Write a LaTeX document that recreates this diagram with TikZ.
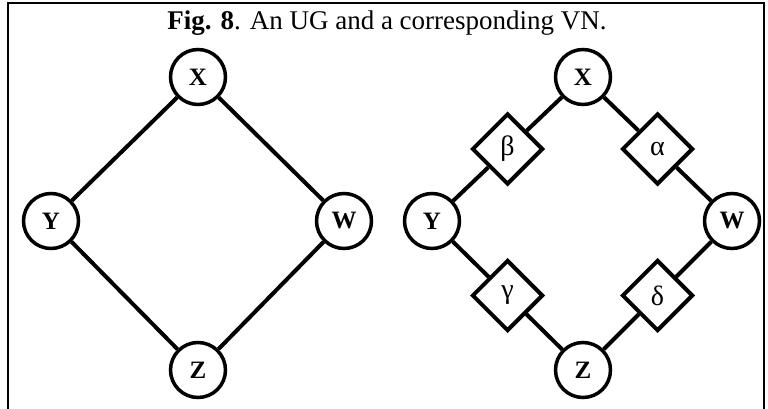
\documentclass[tikz,border=0pt]{standalone}
\usepackage{fontspec}
\setmainfont{Liberation Serif}
\usetikzlibrary{shapes.geometric}
\begin{document}
\begin{tikzpicture}[x=1pt,y=-1pt,
  var/.style={circle,draw,line width=3.5pt,minimum size=55pt,inner sep=0pt,
    font=\fontsize{25}{25}\selectfont\bfseries},
  fac/.style={diamond,draw,line width=4pt,minimum size=71pt,inner sep=0pt,
    font=\fontsize{28}{28}\selectfont},
  link/.style={line width=4pt},
  frame/.style={line width=2.5pt}]
\useasboundingbox (0,0) rectangle (768,409);
% open frame: top and both sides
\draw[frame] (8,409) -- (8,3) -- (764,3) -- (764,409);
\node[anchor=base,font=\fontsize{27}{27}\selectfont] (title) at (387,30)
  {\textbf{Fig. 8}. An UG and a corresponding VN.};
% undirected graph
\node[var] (x1) at (198,77) {X};
\node[var] (y1) at (51,221) {Y};
\node[var] (w1) at (344,221) {W};
\node[var] (z1) at (198,370) {Z};
\draw[link] (x1) -- (y1) -- (z1) -- (w1) -- (x1);
% valuation network
\node[var] (x2) at (583,77) {X};
\node[var] (y2) at (432,221) {Y};
\node[var] (w2) at (732,221) {W};
\node[var] (z2) at (583,370) {Z};
\node[fac] (b) at (507.5,149) {β};
\node[fac] (a) at (657.5,149) {α};
\node[fac] (g) at (507.5,295.5) {γ};
\node[fac] (d) at (657.5,295.5) {δ};
\draw[link] (x2) -- (b) -- (y2) -- (g) -- (z2) -- (d) -- (w2) -- (a) -- (x2);
\end{tikzpicture}
\end{document}
